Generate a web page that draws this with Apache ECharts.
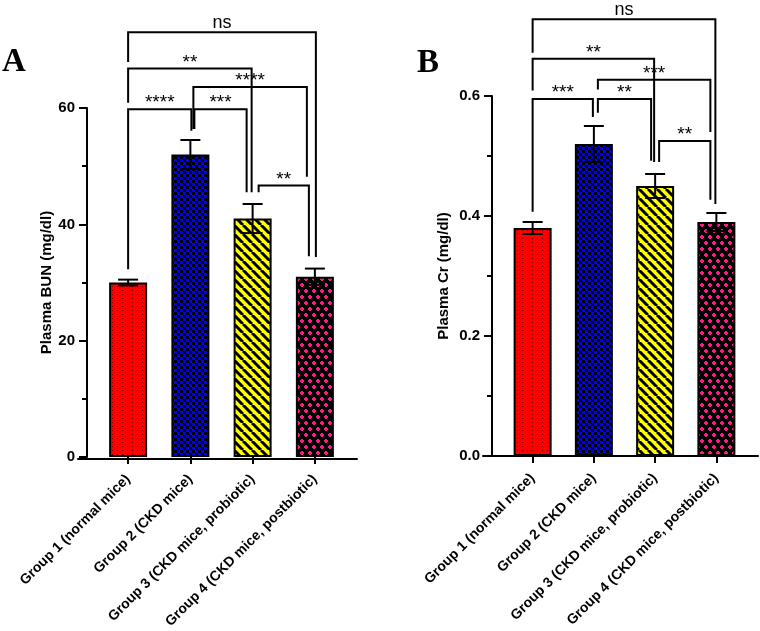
<!DOCTYPE html>
<html>
<head>
<meta charset="utf-8">
<script src="https://cdn.jsdelivr.net/npm/echarts@6/dist/echarts.min.js"></script>
<style>
  html, body { margin: 0; padding: 0; background: #fff; }
  #chart { width: 760px; height: 631px; }
</style>
</head>
<body>
<div id="chart"></div>
<script>
// ---- data ----
const categories = ['Group 1 (normal mice)', 'Group 2 (CKD mice)', 'Group 3 (CKD mice, probiotic)', 'Group 4 (CKD mice, postbiotic)'];
const bunMean = [30, 52, 41, 31];
const bunErr = [0.5, 2.5, 2.5, 1.4];
const crMean = [0.38, 0.52, 0.45, 0.39];
const crErr = [0.01, 0.03, 0.02, 0.015];
const bunTicks = { min: 0, max: 60, interval: 20 };
const crTicks = { min: 0, max: 0.6, interval: 0.2 };
// [from group, to group, bracket level, left leg end, right leg end, label]
const bunBrackets = [
  [0, 3, 73.0, 67.9, 34.4, 'ns'],
  [0, 2, 66.8, 60.9, 45.5, '**'],
  [1, 3, 63.6, 56.4, 48.2, '****'],
  [0, 1, 59.8, 32.3, 56.1, '****'],
  [1, 2, 59.8, 56.4, 45.5, '***'],
  [2, 3, 46.7, 45.5, 34.5, '**']
];
const crBrackets = [
  [0, 3, 0.728, 0.672, 0.42, 'ns'],
  [0, 2, 0.662, 0.609, 0.49, '**'],
  [1, 3, 0.627, 0.611, 0.54, '***'],
  [0, 1, 0.595, 0.407, 0.565, '***'],
  [1, 2, 0.595, 0.572, 0.492, '**'],
  [2, 3, 0.525, 0.49, 0.427, '**']
];

// small pixel shifts of bracket legs so they don't overlap (layout only)
const bunLegNudge = [[0, 1], [0, -1], [3, -8], [0, 1], [4, -6], [6, -6]];
const crLegNudge = [[0, -1], [0, -1], [4, -6], [0, -1], [4, -4], [4, -6]];

const FONT = '"Liberation Sans", Arial, sans-serif';
const SERIF = '"Liberation Serif", "Times New Roman", serif';

// pattern fills like the GraphPad bars
function makePattern(kind) {
  const c = document.createElement('canvas');
  const ctx = c.getContext('2d');
  if (kind === 'dots') {
    c.width = 5; c.height = 4;
    ctx.fillStyle = '#ff0000'; ctx.fillRect(0, 0, 5, 4);
    ctx.fillStyle = '#7a0000'; ctx.fillRect(2, 2, 1, 1);
  } else if (kind === 'checker') {
    c.width = 6; c.height = 6;
    ctx.fillStyle = '#0000ff'; ctx.fillRect(0, 0, 6, 6);
    ctx.fillStyle = '#000000'; ctx.fillRect(0, 0, 3, 3); ctx.fillRect(3, 3, 3, 3);
  } else if (kind === 'stripes') {
    c.width = 9; c.height = 9;
    ctx.fillStyle = '#ffff00'; ctx.fillRect(0, 0, 9, 9);
    ctx.strokeStyle = '#000000'; ctx.lineWidth = 3;
    [-9, 0, 9].forEach(function (x0) {
      ctx.beginPath(); ctx.moveTo(x0, 0); ctx.lineTo(x0 + 9, 9); ctx.stroke();
    });
  } else {
    // pink plus-shaped dots on black, staggered rows
    c.width = 8; c.height = 12;
    ctx.fillStyle = '#000000'; ctx.fillRect(0, 0, 8, 12);
    ctx.fillStyle = '#ff1a8a';
    [[2, 3], [6, 9]].forEach(function (p) {
      ctx.fillRect(p[0] - 2, p[1] - 1, 4, 2);
      ctx.fillRect(p[0] - 1, p[1] - 2, 2, 4);
    });
  }
  return { image: c, repeat: 'repeat' };
}
const fills = [makePattern('dots'), makePattern('checker'), makePattern('stripes'), makePattern('pink')];

function barData(values) {
  return values.map(function (v, i) {
    return { value: v, itemStyle: { color: fills[i] } };
  });
}

function errorRenderer(errs) {
  return function (params, api) {
    const i = api.value(0), m = api.value(1), e = errs[params.dataIndex];
    const top = api.coord([i, m + e]);
    const bot = api.coord([i, m - e]);
    const half = 10;
    const st = { stroke: '#000', lineWidth: 2 };
    return {
      type: 'group',
      children: [
        { type: 'line', shape: { x1: top[0], y1: top[1], x2: bot[0], y2: bot[1] }, style: st },
        { type: 'line', shape: { x1: top[0] - half, y1: top[1], x2: top[0] + half, y2: top[1] }, style: st },
        { type: 'line', shape: { x1: bot[0] - half, y1: bot[1], x2: bot[0] + half, y2: bot[1] }, style: st }
      ]
    };
  };
}

function bracketRenderer(brackets, nudge) {
  return function (params, api) {
    const b = brackets[params.dataIndex];
    const n = nudge[params.dataIndex];
    const pl = api.coord([b[0], b[2]]);
    const pr = api.coord([b[1], b[2]]);
    const xl = pl[0] + n[0], xr = pr[0] + n[1], yt = pl[1];
    const yl = api.coord([b[0], b[3]])[1];
    const yr = api.coord([b[1], b[4]])[1];
    const isNs = b[5] === 'ns';
    return {
      type: 'group',
      children: [
        {
          type: 'polyline',
          shape: { points: [[xl, yl], [xl, yt], [xr, yt], [xr, yr]] },
          style: { stroke: '#000', lineWidth: 2, fill: null, lineJoin: 'miter' }
        },
        {
          type: 'text',
          style: {
            text: b[5], x: (xl + xr) / 2, y: isNs ? yt - 9 : yt - 6,
            align: 'center', verticalAlign: 'middle',
            font: isNs ? '18px ' + FONT : '19px ' + FONT, fill: '#000'
          }
        }
      ]
    };
  };
}

function yAxisCfg(grid, ticks, name, gap, fmt) {
  return {
    gridIndex: grid, type: 'value', min: ticks.min, max: ticks.max, interval: ticks.interval,
    offset: 10,
    name: name, nameLocation: 'middle', nameGap: gap,
    nameTextStyle: { fontFamily: FONT, fontWeight: 'bold', fontSize: 15, color: '#000' },
    axisLine: { show: true, lineStyle: { color: '#000', width: 2 } },
    axisTick: { show: true, length: 8, lineStyle: { color: '#000', width: 2 } },
    minorTick: { show: true, splitNumber: 2, length: 5, lineStyle: { color: '#000', width: 2 } },
    splitLine: { show: false },
    axisLabel: { fontFamily: FONT, fontWeight: 'bold', fontSize: 15, color: '#000', margin: 12, formatter: fmt }
  };
}

function xAxisCfg(grid) {
  return {
    gridIndex: grid, type: 'category', data: categories,
    axisLine: { show: false },
    axisTick: { show: true, alignWithLabel: true, length: 7, lineStyle: { color: '#000', width: 2 } },
    axisLabel: { interval: 0, rotate: 45, fontFamily: FONT, fontWeight: 'bold', fontSize: 14, color: '#000', margin: 20 }
  };
}

function baseAxis(grid) {
  return {
    gridIndex: grid, type: 'value', min: 0, max: 1,
    axisLine: { show: true, lineStyle: { color: '#000', width: 2 } },
    axisTick: { show: false }, axisLabel: { show: false }, splitLine: { show: false }
  };
}

const chart = echarts.init(document.getElementById('chart'), null, { renderer: 'canvas' });
chart.setOption({
  backgroundColor: '#fff',
  animation: false,
  title: [
    { text: 'A', left: 2, top: 46, padding: 0, textStyle: { fontFamily: SERIF, fontWeight: 'bold', fontSize: 33, color: '#000' } },
    { text: 'B', left: 417, top: 47, padding: 0, textStyle: { fontFamily: SERIF, fontWeight: 'bold', fontSize: 33, color: '#000' } }
  ],
  grid: [
    { left: 97, top: 108, width: 249, height: 351 },
    { left: 78, top: 108, width: 279, height: 351 },
    { left: 502, top: 96, width: 245, height: 360 },
    { left: 483, top: 96, width: 275, height: 360 }
  ],
  xAxis: [xAxisCfg(0), baseAxis(1), xAxisCfg(2), baseAxis(3)],
  yAxis: [
    yAxisCfg(0, bunTicks, 'Plasma BUN (mg/dl)', 32, null),
    { gridIndex: 1, type: 'value', show: false },
    yAxisCfg(2, crTicks, 'Plasma Cr (mg/dl)', 41, function (v) { return v.toFixed(1); }),
    { gridIndex: 3, type: 'value', show: false }
  ],
  series: [
    {
      type: 'bar', xAxisIndex: 0, yAxisIndex: 0, barWidth: 38,
      itemStyle: { borderColor: '#000', borderWidth: 2 },
      data: barData(bunMean)
    },
    {
      type: 'custom', xAxisIndex: 0, yAxisIndex: 0, z: 5,
      renderItem: errorRenderer(bunErr),
      data: bunMean.map(function (v, i) { return [i, v]; })
    },
    {
      type: 'custom', xAxisIndex: 0, yAxisIndex: 0, z: 6, clip: false,
      renderItem: bracketRenderer(bunBrackets, bunLegNudge),
      data: bunBrackets.map(function (b) { return [b[0], b[2]]; })
    },
    {
      type: 'bar', xAxisIndex: 2, yAxisIndex: 2, barWidth: 38,
      itemStyle: { borderColor: '#000', borderWidth: 2 },
      data: barData(crMean)
    },
    {
      type: 'custom', xAxisIndex: 2, yAxisIndex: 2, z: 5,
      renderItem: errorRenderer(crErr),
      data: crMean.map(function (v, i) { return [i, v]; })
    },
    {
      type: 'custom', xAxisIndex: 2, yAxisIndex: 2, z: 6, clip: false,
      renderItem: bracketRenderer(crBrackets, crLegNudge),
      data: crBrackets.map(function (b) { return [b[0], b[2]]; })
    }
  ]
});
</script>
</body>
</html>
